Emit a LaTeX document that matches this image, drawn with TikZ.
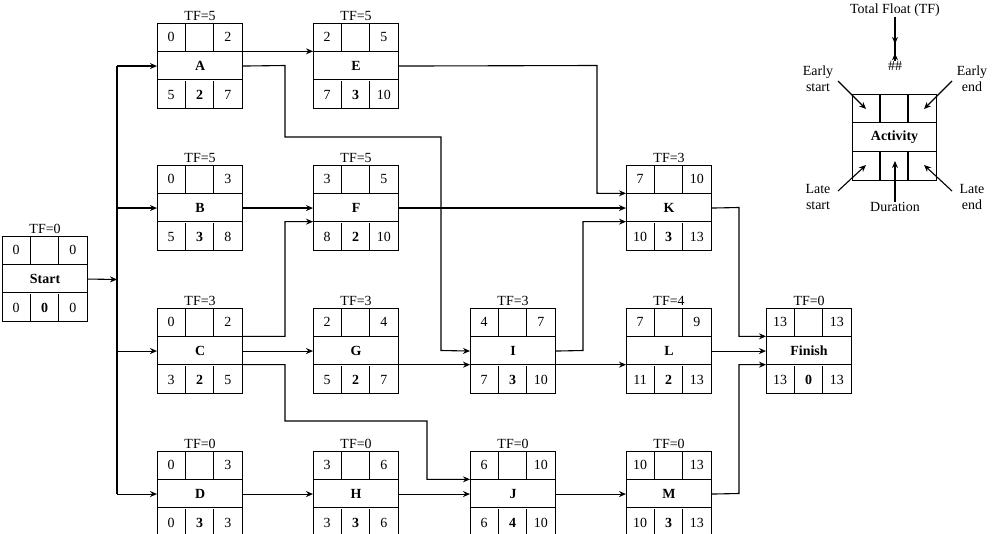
\documentclass[tikz,border=0pt]{standalone}
\usepackage{fontspec}
\setmainfont{Liberation Serif}
\usetikzlibrary{arrows.meta,calc}
\tikzset{
  box/.style={draw,line width=1.1bp,minimum width=85bp,minimum height=85bp,anchor=north west,inner sep=0pt},
  cell/.style={line width=1.1bp},
  con/.style={line width=1.1bp},
  arr/.style={con,-{Stealth[length=7bp,width=6bp]}},
  txt/.style={inner sep=0pt,font=\fontsize{14}{16}\selectfont}
}
\newcommand{\actbox}[9]{%
  % #1 name, #2 x, #3 y, #4 es, #5 ef, #6 label, #7 ls, #8 dur, #9 lf
  \node[box] (#1) at (#2,#3) {};
  \coordinate (#1-ul) at ($(#1.north west)+(0,28.33)$);
  \coordinate (#1-ll) at ($(#1.north west)+(0,56.67)$);
  \coordinate (#1-ur) at ($(#1.north east)+(0,28.33)$);
  \coordinate (#1-lr) at ($(#1.north east)+(0,56.67)$);
  \draw[cell] (#1-ul) -- (#1-ur) (#1-ll) -- (#1-lr);
  \draw[cell] ($(#1.north west)+(28.33,0)$) -- ++(0,28.33) ($(#1.north west)+(56.67,0)$) -- ++(0,28.33);
  \draw[cell] ($(#1.south west)+(28.33,0)$) -- ++(0,-28.33) ($(#1.south west)+(56.67,0)$) -- ++(0,-28.33);
  \node[txt] (#1-es) at ($(#1.north west)+(14.2,14.2)$) {#4};
  \node[txt] (#1-ef) at ($(#1.north west)+(70.8,14.2)$) {#5};
  \node[txt] (#1-lb) at (#1.center) {\bfseries #6};
  \node[txt] (#1-ls) at ($(#1.south west)+(14.2,-14.2)$) {#7};
  \node[txt] (#1-du) at ($(#1.south west)+(42.5,-14.2)$) {\bfseries #8};
  \node[txt] (#1-lf) at ($(#1.south west)+(70.8,-14.2)$) {#9};
}
\newcommand{\tf}[2]{\node[txt,anchor=south] (#1-tf) at ($(#1.north)+(0,-2)$) {TF=#2};}
\begin{document}
\begin{tikzpicture}[x=1bp,y=-1bp]
\useasboundingbox (0,0) rectangle (994,534);
\actbox{Start}{2}{236}{0}{0}{Start}{0}{0}{0}\tf{Start}{0}
\actbox{A}{157}{23}{0}{2}{A}{5}{2}{7}\tf{A}{5}
\actbox{E}{313}{23}{2}{5}{E}{7}{3}{10}\tf{E}{5}
\actbox{B}{157}{165}{0}{3}{B}{5}{3}{8}\tf{B}{5}
\actbox{F}{313}{165}{3}{5}{F}{8}{2}{10}\tf{F}{5}
\actbox{K}{626}{165}{7}{10}{K}{10}{3}{13}\tf{K}{3}
\actbox{C}{157}{308}{0}{2}{C}{3}{2}{5}\tf{C}{3}
\actbox{G}{313}{308}{2}{4}{G}{5}{2}{7}\tf{G}{3}
\actbox{I}{470}{308}{4}{7}{I}{7}{3}{10}\tf{I}{3}
\actbox{L}{626}{308}{7}{9}{L}{11}{2}{13}\tf{L}{4}
\actbox{Fin}{766}{308}{13}{13}{Finish}{13}{0}{13}\tf{Fin}{0}
\actbox{D}{157}{451}{0}{3}{D}{0}{3}{3}\tf{D}{0}
\actbox{H}{313}{451}{3}{6}{H}{3}{3}{6}\tf{H}{0}
\actbox{J}{470}{451}{6}{10}{J}{6}{4}{10}\tf{J}{0}
\actbox{M}{626}{451}{10}{13}{M}{10}{3}{13}\tf{M}{0}
% bus
\coordinate (bus) at (117,279.5);
\draw[arr] (Start.east) -- (bus);
\draw[con] (bus |- A.west) -- (bus |- D.west);
\foreach \n in {A,B,C,D} \draw[arr] (bus |- \n.west) -- (\n.west);
% connectors
\draw[arr] (A-ur) -- (E-ul);
\draw[arr] (A.east) -- (285,65.5) -- (285,137) -- (441,137) -- (441,350.5) -- (I.west);
\draw[arr] (E.east) -- (597,65.5) -- (597,193.3) -- (K-ul);
\draw[arr] (B.east) -- (F.west);
\draw[arr] (F.east) -- (K.west);
\draw[arr] (C-ur) -- (285,336.3) -- (285,221.7) -- (F-ll);
\draw[arr] (C.east) -- (G.west);
\draw[arr] (C-lr) -- (285,364.7) -- (285,421) -- (427,421) -- (427,479.3) -- (J-ul);
\draw[arr] (G-lr) -- (I-ll);
\draw[arr] (I-lr) -- (L-ll);
\draw[arr] (I.east) -- (583,350.5) -- (583,221.7) -- (K-ll);
\draw[arr] (K.east) -- (739,207.5) -- (739,336.3) -- (Fin-ul);
\draw[arr] (L.east) -- (Fin.west);
\draw[arr] (M.east) -- (739,493.5) -- (739,364.7) -- (Fin-ll);
\draw[arr] (D.east) -- (H.west);
\draw[arr] (H.east) -- (J.west);
\draw[arr] (J.east) -- (M.west);
% legend
\node[box,minimum width=84bp,minimum height=86bp] (Leg) at (852,94) {};
\coordinate (Leg-ul) at ($(Leg.north west)+(0,28.67)$);
\coordinate (Leg-ll) at ($(Leg.north west)+(0,57.33)$);
\draw[cell] (Leg-ul) -- ++(84,0) (Leg-ll) -- ++(84,0);
\draw[cell] ($(Leg.north west)+(28,0)$) -- ++(0,28.67) ($(Leg.north west)+(56,0)$) -- ++(0,28.67);
\draw[cell] ($(Leg.south west)+(28,0)$) -- ++(0,-28.67) ($(Leg.south west)+(56,0)$) -- ++(0,-28.67);
\node[txt] (Leg-lb) at (Leg.center) {\bfseries Activity};
\node[txt] (tft) at (895,10) {Total Float (TF)};
\node[txt] (hash) at (895,66) {\#\#};
\draw[arr] (tft.south) ++(0,5) coordinate (tfa) (tfa) -- (hash.north -| tfa) ++(0,-8);
\node[txt,align=center] (es) at (818,79) {Early\\start};
\node[txt,align=center] (ef) at (972,79) {Early\\end};
\node[txt,align=center] (ls) at (818,197) {Late\\start};
\node[txt,align=center] (lf) at (972,197) {Late\\end};
\node[txt] (dur) at (895,207) {Duration};
\coordinate (p1) at (866,109); \coordinate (p2) at (924,109);
\coordinate (p3) at (866,165); \coordinate (p4) at (924,165);
\coordinate (p5) at (895,161); \coordinate (p6) at (895,44);
\draw[arr] (838,81) -- (p1);
\draw[arr] (952,81) -- (p2);
\draw[arr] (838,191) -- (p3);
\draw[arr] (952,191) -- (p4);
\draw[arr] (dur.north) -- (p5);
\draw[arr] (tft.south) -- (p6);
\end{tikzpicture}
\end{document}
